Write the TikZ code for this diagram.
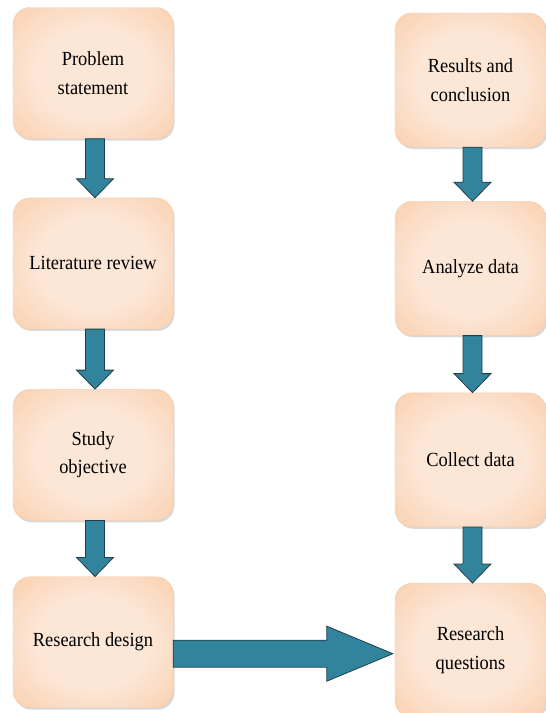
\documentclass[tikz,border=0pt]{standalone}
\usepackage{fontspec}
\setmainfont{Liberation Serif}[FakeStretch=0.92]
\usetikzlibrary{positioning,calc,shadows}
\definecolor{peachin}{HTML}{FCE6D6}
\definecolor{peachmid}{HTML}{F9CDAA}
\definecolor{peachout}{HTML}{F3AC76}
\definecolor{arrfill}{HTML}{31849B}
\definecolor{arrline}{HTML}{1F3E4C}
\pgfdeclareradialshading{peach}{\pgfpoint{0bp}{0bp}}{color(0bp)=(peachin); color(18bp)=(peachin); color(38bp)=(peachmid); color(50bp)=(peachout)}
% block arrows between two boxes
\newcommand{\downblock}[2]{%
  \draw[blockarr] let \p1=(#1.south), \p2=(#2.north) in
    (\x1-7.5,\y1) -- (\x1+11.5,\y1) -- (\x1+11.5,\y2+19) -- (\x1+20.5,\y2+19)
    -- (\x1+2,\y2) -- (\x1-16.5,\y2+19) -- (\x1-7.5,\y2+19) -- cycle;}
\newcommand{\rightblock}[2]{%
  \draw[blockarr] let \p1=(#1.east), \p2=(#2.west) in
    (\x1,\y2+10) -- (\x2-68,\y2+10) -- (\x2-68,\y2+24) -- (\x2-2,\y2-3.5)
    -- (\x2-68,\y2-31) -- (\x2-68,\y2-17) -- (\x1,\y2-17) -- cycle;}

\begin{document}
\begin{tikzpicture}[x=1pt,y=-1pt,
 box/.style={rounded corners=17pt,shading=peach,draw=peachout!60!white,line width=0.4pt,
   drop shadow={opacity=0.3,shadow xshift=1.5pt,shadow yshift=-2pt},
   align=center,inner sep=0pt,text=black,font=\fontsize{20}{28.5}\selectfont},
 lbox/.style={box,minimum width=160pt,minimum height=131pt},
 rbox/.style={box,minimum width=151pt,minimum height=134pt},
 blockarr/.style={fill=arrfill,draw=arrline,line width=0.8pt,line join=miter}]
\useasboundingbox (0,0) rectangle (546,713);
\node[lbox] (problem) at (93,73) {Problem\\statement};
\node[lbox,below=59pt of problem] (literature) {Literature review};
\node[lbox,below=60pt of literature] (objective) {Study\\objective};
\node[lbox,below=56pt of objective] (design) {Research design};
\node[rbox] (results) at (470.5,80) {Results and\\conclusion};
\node[rbox,below=54pt of results] (analyze) {Analyze data};
\node[rbox,below=57pt of analyze] (collect) {Collect data};
\node[rbox,below=56pt of collect] (questions) {Research\\questions};
\downblock{problem}{literature}
\downblock{literature}{objective}
\downblock{objective}{design}
\downblock{results}{analyze}
\downblock{analyze}{collect}
\downblock{collect}{questions}
\rightblock{design}{questions}
\end{tikzpicture}
\end{document}
